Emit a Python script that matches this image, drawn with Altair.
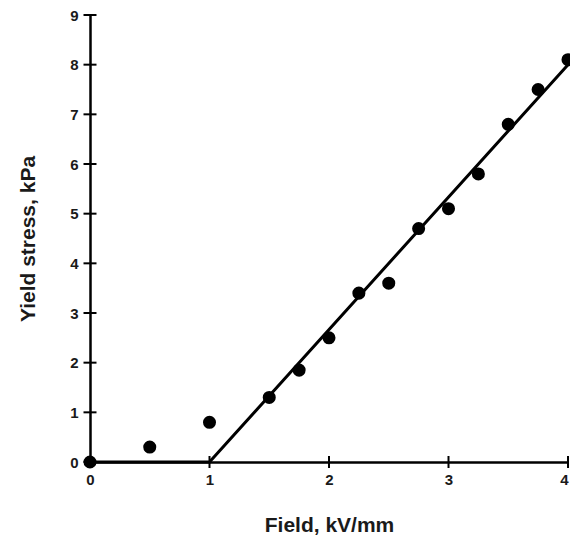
import altair as alt
import pandas as pd

field = [0, 0.5, 1, 1.5, 1.75, 2, 2.25, 2.5, 2.75, 3, 3.25, 3.5, 3.75, 4]
stress = [0, 0.3, 0.8, 1.3, 1.85, 2.5, 3.4, 3.6, 4.7, 5.1, 5.8, 6.8, 7.5, 8.1]

fit_x = [0, 1, 4]
fit_y = [0, 0, 8.0]

x_ticks = [0, 1, 2, 3, 4]
y_ticks = [0, 1, 2, 3, 4, 5, 6, 7, 8, 9]

pts = pd.DataFrame({"x": field, "y": stress})
fit = pd.DataFrame({"x": fit_x, "y": fit_y})
xt = pd.DataFrame({"x": x_ticks, "y": [0] * len(x_ticks)})
yt = pd.DataFrame({"x": [0] * len(y_ticks), "y": y_ticks})

xs = alt.Scale(domain=[0, 4], nice=False)
ys = alt.Scale(domain=[0, 9], nice=False)

font = "Liberation Sans"

xaxis = alt.Axis(values=x_ticks, format="d", title="Field, kV/mm", grid=False,
                 domainColor="black", domainWidth=2.5, ticks=False, tickSize=0,
                 labelFont=font, labelFontSize=15, labelFontWeight="bold",
                 labelColor="#1a1a1a", labelPadding=10, titleFont=font, titleFontSize=21,
                 titleFontWeight="bold", titleColor="#1a1a1a", titlePadding=27, labelFlush=False,
                 labelAlign=alt.expr("datum.value == 4 ? 'right' : 'center'"))
yaxis = alt.Axis(values=y_ticks, format="d", title="Yield stress, kPa", grid=False,
                 domainColor="black", domainWidth=2.5, ticks=False, tickSize=0,
                 labelFont=font, labelFontSize=15, labelFontWeight="bold",
                 labelColor="#1a1a1a", labelPadding=12, titleFont=font, titleFontSize=21,
                 titleFontWeight="bold", titleColor="#1a1a1a", titlePadding=31, labelFlush=False)

line = alt.Chart(fit).mark_line(color="black", strokeWidth=3, clip=False).encode(
    x=alt.X("x:Q", scale=xs, axis=xaxis),
    y=alt.Y("y:Q", scale=ys, axis=yaxis),
)
xtick_marks = alt.Chart(xt).mark_tick(color="black", orient="vertical", size=12,
                                      thickness=2, opacity=1, clip=False).encode(
    x=alt.X("x:Q", scale=xs),
    y=alt.Y("y:Q", scale=ys),
)
ytick_marks = alt.Chart(yt).mark_tick(color="black", orient="horizontal", size=13,
                                      thickness=2, opacity=1, clip=False).encode(
    x=alt.X("x:Q", scale=xs),
    y=alt.Y("y:Q", scale=ys),
)
points = alt.Chart(pts).mark_circle(color="black", size=170, opacity=1, clip=False).encode(
    x=alt.X("x:Q", scale=xs),
    y=alt.Y("y:Q", scale=ys),
)

chart = (line + xtick_marks + ytick_marks + points).properties(
    width=478, height=447,
    background="white",
    autosize=alt.AutoSizeParams(type="none"),
    padding={"left": 90, "top": 15, "right": 2, "bottom": 82},
).configure_view(stroke=None)

chart.save("out.html", embed_options={"renderer": "svg", "actions": False})
